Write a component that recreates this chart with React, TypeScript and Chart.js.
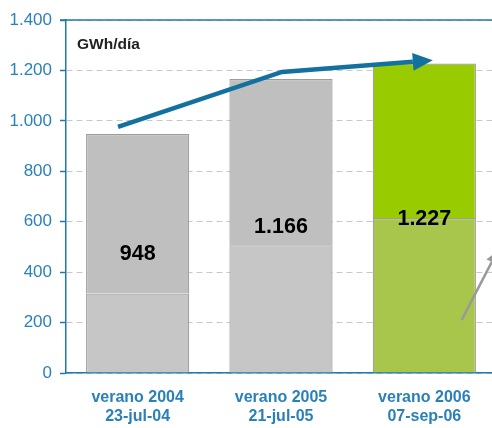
import React, { useEffect, useRef } from "react";
import { Chart, registerables } from "chart.js";

Chart.register(...registerables);

const categories = [
  ["verano 2004", "23-jul-04"],
  ["verano 2005", "21-jul-05"],
  ["verano 2006", "07-sep-06"],
];
const baseValues = [315, 507, 615];
const totalValues = [948, 1166, 1227];
const upperValues = [633, 659, 612];
const totalLabels = ["948", "1.166", "1.227"];
const trendX = [-0.137, 1.007, 1.92];
const trendY = [976, 1194, 1234];
const grayX = [2.26, 2.47];
const grayY = [210, 440];
const yTicks = [0, 200, 400, 600, 800, 1000, 1200, 1400];
const unitLabel = "GWh/día";

const BLUE = "#1f78b0";
const TICK_BLUE = "#2a80b9";

const fmt = (v: number) => {
  const s = String(Math.round(v));
  return s.replace(/\B(?=(\d{3})+(?!\d))/g, ".");
};

const overlayPlugin = {
  id: "overlay",
  afterDatasetsDraw(chart: any) {
    const { ctx, chartArea, scales } = chart;
    const yTop = scales.y.getPixelForValue(yTicks[yTicks.length - 1]);
    ctx.save();
    ctx.strokeStyle = BLUE;
    ctx.lineWidth = 1.5;
    ctx.beginPath();
    ctx.moveTo(chartArea.left - 6, yTop);
    ctx.lineTo(chart.width, yTop);
    ctx.stroke();

    const meta = chart.getDatasetMeta(0);
    ctx.font = "bold 21.5px 'Liberation Sans', Arial, sans-serif";
    ctx.fillStyle = "#000";
    ctx.textAlign = "center";
    ctx.textBaseline = "middle";
    meta.data.forEach((el: any, i: number) => {
      const y = scales.y.getPixelForValue(totalValues[i] / 2);
      ctx.fillText(totalLabels[i], el.x, y + 1);
    });

    ctx.font = "bold 15.5px 'Liberation Sans', Arial, sans-serif";
    ctx.fillStyle = "#222";
    ctx.textAlign = "left";
    ctx.fillText(unitLabel, chartArea.left + 11, 45);

    const heads = [
      { idx: 2, color: "#12719f", len: 20, half: 9 },
      { idx: 3, color: "#9a9a9a", len: 12, half: 6 },
    ];
    heads.forEach((h) => {
      const m = chart.getDatasetMeta(h.idx);
      const pts = m.data;
      const a = pts[pts.length - 2];
      const b = pts[pts.length - 1];
      const dx = b.x - a.x;
      const dy = b.y - a.y;
      const d = Math.hypot(dx, dy);
      const ux = dx / d;
      const uy = dy / d;
      const tipX = b.x + ux * h.len;
      const tipY = b.y + uy * h.len;
      ctx.fillStyle = h.color;
      ctx.beginPath();
      ctx.moveTo(tipX, tipY);
      ctx.lineTo(b.x - uy * h.half, b.y + ux * h.half);
      ctx.lineTo(b.x + uy * h.half, b.y - ux * h.half);
      ctx.closePath();
      ctx.fill();
    });
    ctx.restore();
  },
};

export default function App() {
  const ref = useRef<HTMLCanvasElement>(null);
  useEffect(() => {
    if (!ref.current) return;
    const barCommon = {
      borderColor: "#9c9c9c",
      borderWidth: 1.2,
      stack: "s",
      grouped: false,
      barPercentage: 0.72,
      categoryPercentage: 1,
      order: 1,
    };
    const chart = new Chart(ref.current, {
      type: "bar",
      data: {
        labels: categories,
        datasets: [
          {
            label: "base",
            data: baseValues,
            backgroundColor: ["#c6c6c6", "#c6c6c6", "#a9c64c"],
            ...barCommon,
          } as any,
          {
            label: "upper",
            data: upperValues,
            backgroundColor: ["#bfbfbf", "#bfbfbf", "#99cc00"],
            ...barCommon,
          } as any,
          {
            type: "line",
            label: "trend",
            data: trendX.map((x, i) => ({ x, y: trendY[i] })),
            xAxisID: "x2",
            borderColor: "#12719f",
            borderWidth: 4.5,
            pointRadius: 0,
            tension: 0,
            clip: false as any,
            stack: "t",
            order: -1,
          } as any,
          {
            type: "line",
            label: "gray",
            data: grayX.map((x, i) => ({ x, y: grayY[i] })),
            xAxisID: "x2",
            borderColor: "#9a9a9a",
            borderWidth: 2.5,
            pointRadius: 0,
            tension: 0,
            clip: false as any,
            stack: "g",
            order: -1,
          } as any,
        ],
      },
      options: {
        animation: false,
        responsive: false,
        layout: { padding: { left: 0, right: 4, top: 20, bottom: 0 } },
        plugins: { legend: { display: false }, tooltip: { enabled: false } },
        scales: {
          x: {
            type: "category",
            offset: true,
            stacked: true,
            grid: { display: false, drawTicks: false },
            border: { display: true, color: BLUE, width: 1.5 },
            ticks: {
              color: TICK_BLUE,
              font: { family: "'Liberation Sans', Arial, sans-serif", size: 16, weight: "bold", lineHeight: 1.2 },
              padding: 15,
              maxRotation: 0,
              autoSkip: false,
            },
            afterFit: (s: any) => {
              s.height = 55;
            },
          } as any,
          x2: {
            type: "linear",
            min: -0.5,
            max: 2.5,
            offset: false,
            display: false,
            grid: { offset: false },
          } as any,
          y: {
            stacked: true,
            min: 0,
            max: 1400,
            afterBuildTicks: (s: any) => {
              s.ticks = yTicks.map((v) => ({ value: v }));
            },
            afterFit: (s: any) => {
              s.width = 66;
            },
            grid: {
              color: "#c8c8c8",
              lineWidth: 1,
              tickColor: BLUE,
              tickLength: 6,
              tickWidth: 1.5,
            },
            border: { display: true, color: BLUE, width: 1.5, dash: [6, 4] },
            ticks: {
              color: TICK_BLUE,
              font: { family: "'Liberation Sans', Arial, sans-serif", size: 17 },
              padding: 8,
              callback: (v: any) => fmt(Number(v)),
            },
          } as any,
        },
      } as any,
      plugins: [overlayPlugin],
    });
    return () => chart.destroy();
  }, []);
  return (
    <div style={{ position: "fixed", left: 0, top: 0, width: 492, height: 428, overflow: "hidden", background: "#fff" }}>
      <canvas ref={ref} width={500} height={428} style={{ width: 500, height: 428, display: "block" }} />
    </div>
  );
}
